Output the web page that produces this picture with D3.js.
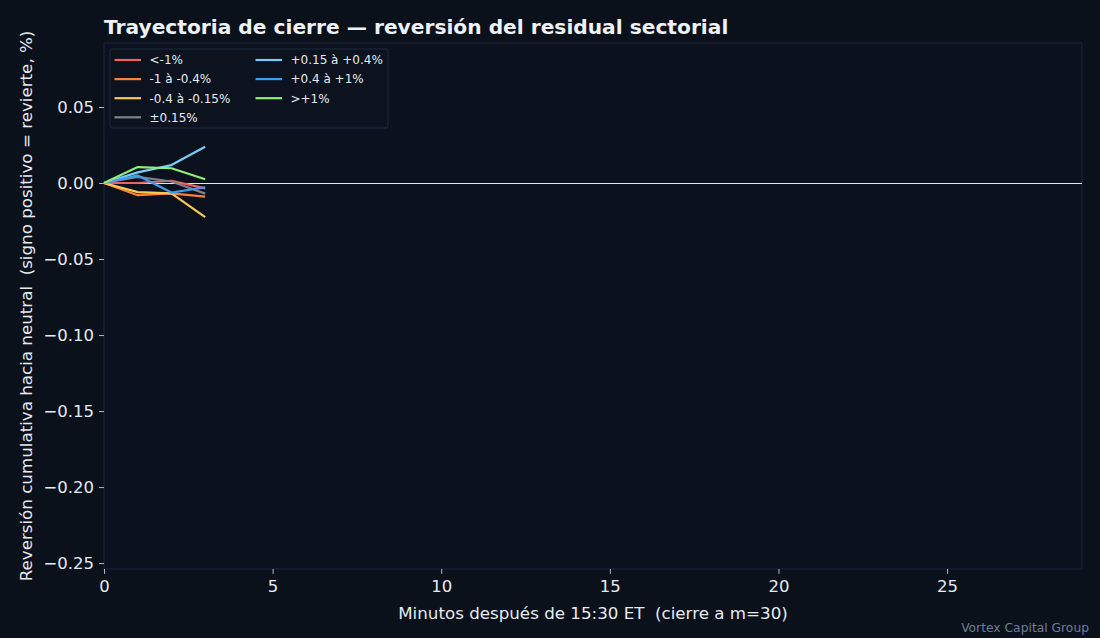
<!DOCTYPE html>
<html><head><meta charset="utf-8">
<script src="https://cdn.jsdelivr.net/npm/d3@7/dist/d3.min.js"></script>
<style>
html,body{margin:0;padding:0;background:#0b111b;}
svg{display:block;font-family:"DejaVu Sans",sans-serif;}
text{white-space:pre;}
</style></head>
<body>
<svg id="chart" width="1100" height="638"></svg>
<script>
const minutes = [0, 1, 2, 3];
const seriesNames = ["<-1%", "-1 à -0.4%", "-0.4 à -0.15%", "±0.15%", "+0.15 à +0.4%", "+0.4 à +1%", ">+1%"];
const seriesColors = ["#f06262", "#fa8035", "#fcc858", "#7f8288", "#7ccbf6", "#3a9ff0", "#8eef7e"];
const vLt1 = [0, 0.0000, 0.0015, -0.0035];
const vM1 = [0, -0.0080, -0.0068, -0.0090];
const vM04 = [0, -0.0060, -0.0068, -0.0225];
const vNeutral = [0, 0.0040, 0.0010, -0.0070];
const vP015 = [0, 0.0070, 0.0118, 0.0238];
const vP04 = [0, 0.0050, -0.0063, -0.0028];
const vGt1 = [0, 0.0105, 0.0097, 0.0025];
const seriesValues = [vLt1, vM1, vM04, vNeutral, vP015, vP04, vGt1];
const xTicks = [0, 5, 10, 15, 20, 25];
const yTicks = [0.05, 0.00, -0.05, -0.10, -0.15, -0.20, -0.25];

const svg = d3.select("#chart");
const L = 104, R = 1082, T = 43, B = 569;
const x = d3.scaleLinear().domain([0, 29]).range([L, R]);
const y = d3.scaleLinear().domain([-0.2539, 0.0921]).range([B, T]);

svg.append("rect").attr("x",0).attr("y",0).attr("width",1100).attr("height",638).attr("fill","#0b111b");
svg.append("rect").attr("x",L).attr("y",T).attr("width",R-L).attr("height",B-T).attr("fill","#0b121e").attr("stroke","#1c2738").attr("stroke-width",1);

// axes
const fmtY = d => d3.format(".2f")(d).replace("-", "\u2212");
const xAxis = svg.append("g").attr("transform",`translate(0,${B})`)
  .call(d3.axisBottom(x).tickValues(xTicks).tickSize(4.9).tickPadding(6.5).tickFormat(d3.format("d")));
const yAxis = svg.append("g").attr("transform",`translate(${L},0)`)
  .call(d3.axisLeft(y).tickValues(yTicks).tickSize(4.9).tickPadding(5).tickFormat(fmtY));
[xAxis, yAxis].forEach(g => {
  g.attr("font-size", null).attr("font-family", null);
  g.select(".domain").remove();
  g.selectAll(".tick line").attr("stroke","#dfe4ec").attr("stroke-width",0.8);
  g.selectAll(".tick text").attr("fill","#e6eaf0").style("font-size","16.5px").style("font-family","DejaVu Sans");
});

// zero line
svg.append("line").attr("x1",L).attr("x2",R).attr("y1",y(0)).attr("y2",y(0))
  .attr("stroke","#e4e8ee").attr("stroke-width",1).attr("shape-rendering","crispEdges");

// series
const line = d3.line().x((d,i)=>x(minutes[i])).y(d=>y(d));
seriesValues.forEach((vals,i)=>{
  svg.append("path").attr("d",line(vals)).attr("fill","none")
    .attr("stroke",seriesColors[i]).attr("stroke-width",2.2).attr("stroke-linejoin","round");
});

// legend
const lg = svg.append("g");
lg.append("rect").attr("x",110).attr("y",49).attr("width",278).attr("height",79).attr("rx",2)
  .attr("fill","#0c131f").attr("stroke","#1e293a").attr("stroke-width",1);
seriesNames.forEach((n,i)=>{
  const col = i < 4 ? 0 : 1;
  const row = i < 4 ? i : i - 4;
  const lx = col === 0 ? 114.5 : 255.5;
  const ly = 60 + row * 19.1;
  lg.append("line").attr("x1",lx).attr("x2",lx+26.5).attr("y1",ly).attr("y2",ly)
    .attr("stroke",seriesColors[i]).attr("stroke-width",2.2);
  lg.append("text").attr("x",lx+35).attr("y",ly+4.3).attr("fill","#e6eaf0")
    .style("font-size","12px").text(n);
});

// title & labels
svg.append("text").attr("x",104).attr("y",34).attr("fill","#eef1f6").style("font-size","20.2px")
  .attr("font-weight","bold").text("Trayectoria de cierre — reversión del residual sectorial");
svg.append("text").attr("x",(L+R)/2).attr("y",619).attr("text-anchor","middle").attr("fill","#e6eaf0")
  .style("font-size","16.7px").text("Minutos después de 15:30 ET  (cierre a m=30)");
svg.append("text").attr("transform",`translate(32,${(T+B)/2}) rotate(-90)`).attr("text-anchor","middle")
  .attr("fill","#e6eaf0").style("font-size","16.7px")
  .text("Reversión cumulativa hacia neutral  (signo positivo = revierte, %)");
svg.append("text").attr("x",1089).attr("y",632).attr("text-anchor","end").attr("fill","#6b7d9c")
  .style("font-size","12.3px").text("Vortex Capital Group");
</script>
</body></html>
